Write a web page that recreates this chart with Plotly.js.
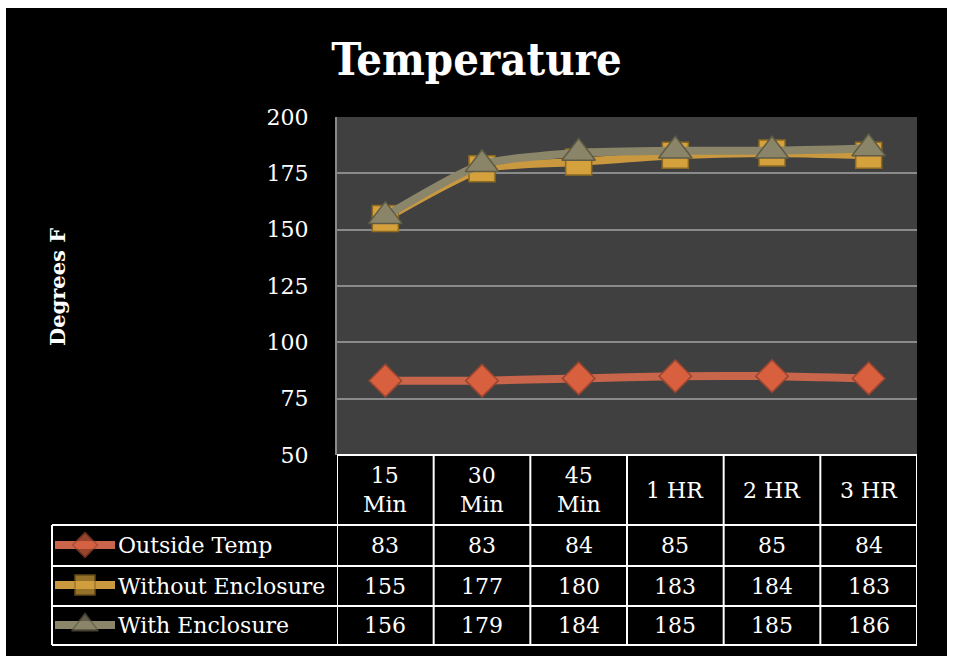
<!DOCTYPE html>
<html><head><meta charset="utf-8">
<script src="https://cdn.plot.ly/plotly-3.0.1.min.js"></script>
<style>html,body{margin:0;padding:0;background:#000;}</style>
</head><body>
<div id="chart" style="width:953px;height:656px;"></div>
<script>
const categories = ["15<br>Min", "30<br>Min", "45<br>Min", "1 HR", "2 HR", "3 HR"];
const seriesNames = ["Outside Temp", "Without Enclosure", "With Enclosure"];
const outsideTemp = [83, 83, 84, 85, 85, 84];
const withoutEnclosure = [155, 177, 180, 183, 184, 183];
const withEnclosure = [156, 179, 184, 185, 185, 186];
const yTicks = [50, 75, 100, 125, 150, 175, 200];

const W = 953, H = 656;
const px = v => v / W;
const py = v => 1 - v / H;
const FONT = '"DejaVu Serif", serif';
const TITLE_FONT = '"DejaVu Serif Condensed", "DejaVu Serif", serif';

const series = [outsideTemp, withoutEnclosure, withEnclosure];
const lineColors = ["#C8654B", "#C9983F", "#8B866A"];
const markerColors = ["#D9603F", "#D4A13C", "#8A8468"];
const markerLines = ["#9A4630", "#8C6A22", "#5F5B45"];
const symbols = ["diamond", "square", "triangle-up"];
const sizes = [25, 26, 29];
const xIdx = categories.map((c, i) => i);

const traces = series.map((vals, s) => ({
  type: "scatter", mode: "lines+markers", name: seriesNames[s],
  x: xIdx, y: vals, xaxis: "x", yaxis: "y",
  line: {color: lineColors[s], width: 8, shape: "spline", smoothing: 0.6},
  marker: {symbol: symbols[s], size: sizes[s], color: markerColors[s],
           line: {color: markerLines[s], width: 1.5}},
  showlegend: false, hoverinfo: "skip"
}));

// legend keys in the table's first column
series.forEach((vals, s) => {
  traces.push({
    type: "scatter", mode: "lines+markers", x: [0, 0.5, 1], y: [2.5 - s, 2.5 - s, 2.5 - s],
    xaxis: "x2", yaxis: "y2",
    line: {color: lineColors[s], width: 8},
    marker: {symbol: symbols[s], size: [0, sizes[s] - 6, 0], color: markerColors[s],
             line: {color: markerLines[s], width: [0, 1.5, 0]}},
    showlegend: false, hoverinfo: "skip"
  });
});

// table geometry (pixels)
const tblLeft = 52, plotLeft = 337, plotRight = 917;
const rowEdges = [455, 525, 566, 606, 645];

const shapes = [];
shapes.push({type: "rect", xref: "x domain", yref: "y domain", x0: 0, x1: 1, y0: 0, y1: 1,
  fillcolor: "#404040", line: {width: 0}, layer: "below"});
const lineStyle = {color: "#FFFFFF", width: 2};
shapes.push({type: "line", xref: "paper", yref: "paper", x0: px(plotLeft), x1: px(plotRight), y0: py(rowEdges[0]), y1: py(rowEdges[0]), line: lineStyle});
for (let r = 1; r < rowEdges.length; r++) {
  shapes.push({type: "line", xref: "paper", yref: "paper", x0: px(tblLeft), x1: px(plotRight), y0: py(rowEdges[r]), y1: py(rowEdges[r]), line: lineStyle});
}
for (let i = 0; i <= categories.length; i++) {
  shapes.push({type: "line", xref: "x", yref: "paper", x0: i - 0.5, x1: i - 0.5, y0: py(rowEdges[0]), y1: py(rowEdges[4]), line: lineStyle});
}
shapes.push({type: "line", xref: "paper", yref: "paper", x0: px(tblLeft), x1: px(tblLeft), y0: py(rowEdges[1]), y1: py(rowEdges[4]), line: lineStyle});
shapes.push({type: "rect", xref: "paper", yref: "paper", x0: 0, x1: 1, y0: py(8), y1: 1, fillcolor: "#FFFFFF", line: {width: 0}});
shapes.push({type: "rect", xref: "paper", yref: "paper", x0: 0, x1: px(6), y0: 0, y1: 1, fillcolor: "#FFFFFF", line: {width: 0}});
shapes.push({type: "rect", xref: "paper", yref: "paper", x0: px(947), x1: 1, y0: 0, y1: 1, fillcolor: "#FFFFFF", line: {width: 0}});

const annotations = [];
const txtFont = {family: FONT, size: 22, color: "#FFFFFF"};
categories.forEach((c, i) => {
  annotations.push({xref: "x", yref: "paper", x: i, y: py((rowEdges[0] + rowEdges[1]) / 2), text: c,
    showarrow: false, font: txtFont, xanchor: "center", yanchor: "middle"});
});
series.forEach((vals, s) => {
  const yc = py((rowEdges[s + 1] + rowEdges[s + 2]) / 2);
  annotations.push({xref: "paper", yref: "paper", x: px(116), y: yc, text: seriesNames[s],
    showarrow: false, font: txtFont, xanchor: "left", yanchor: "middle"});
  vals.forEach((v, i) => {
    annotations.push({xref: "x", yref: "paper", x: i, y: yc, text: String(v),
      showarrow: false, font: txtFont, xanchor: "center", yanchor: "middle"});
  });
});
annotations.push({xref: "paper", yref: "paper", x: px(57), y: py(287), text: "<b>Degrees F</b>",
  textangle: -90, showarrow: false, font: {family: FONT, size: 21, color: "#FFFFFF"},
  xanchor: "center", yanchor: "middle"});

const layout = {
  width: W, height: H,
  margin: {l: 0, r: 0, t: 0, b: 0},
  paper_bgcolor: "#000000",
  plot_bgcolor: "rgba(0,0,0,0)",
  title: {text: "<b>Temperature</b>", x: 0.5, xanchor: "center", y: py(59), yanchor: "middle",
          yref: "container", font: {family: TITLE_FONT, size: 45, color: "#FFFFFF"}},
  xaxis: {domain: [px(plotLeft), px(plotRight)], range: [-0.5, categories.length - 0.5],
          showticklabels: false, showgrid: false, zeroline: false, showline: false, fixedrange: true},
  yaxis: {domain: [py(455), py(117)], range: [50, 200], tickvals: yTicks, ticktext: yTicks.map(String),
          showgrid: true, gridcolor: "#8A8A8A", gridwidth: 2, zeroline: false,
          showline: true, linecolor: "#8A8A8A", linewidth: 2,
          ticklabelstandoff: 22, tickfont: {family: FONT, size: 22, color: "#FFFFFF"}, fixedrange: true},
  xaxis2: {domain: [px(55), px(115)], range: [0, 1], visible: false, fixedrange: true},
  yaxis2: {domain: [py(645), py(525)], range: [0, 3], visible: false, fixedrange: true},
  shapes: shapes,
  annotations: annotations,
  showlegend: false
};

Plotly.newPlot("chart", traces, layout, {staticPlot: true, displayModeBar: false});
</script>
</body></html>
